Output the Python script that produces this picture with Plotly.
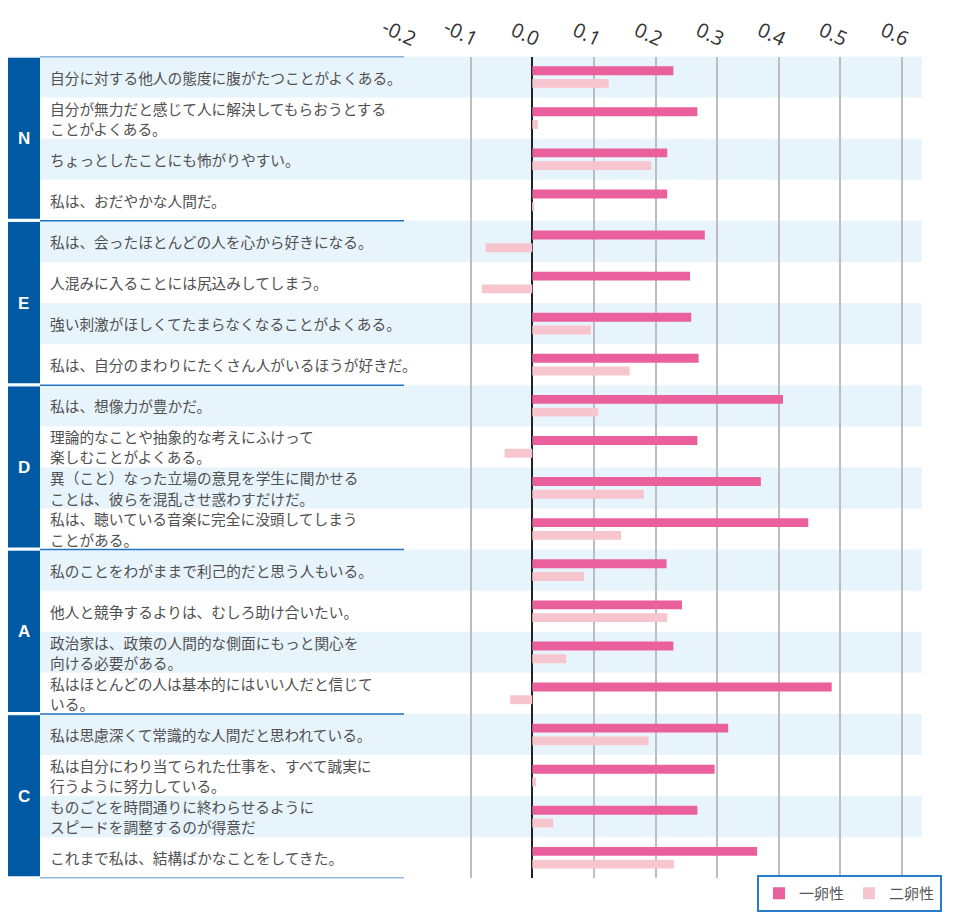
import plotly.graph_objects as go

# data
groups = ["N", "E", "D", "A", "C"]

items = [
    "自分に対する他人の態度に腹がたつことがよくある。",
    "自分が無力だと感じて人に解決してもらおうとする\nことがよくある。",
    "ちょっとしたことにも怖がりやすい。",
    "私は、おだやかな人間だ。",
    "私は、会ったほとんどの人を心から好きになる。",
    "人混みに入ることには尻込みしてしまう。",
    "強い刺激がほしくてたまらなくなることがよくある。",
    "私は、自分のまわりにたくさん人がいるほうが好きだ。",
    "私は、想像力が豊かだ。",
    "理論的なことや抽象的な考えにふけって\n楽しむことがよくある。",
    "異（こと）なった立場の意見を学生に聞かせる\nことは、彼らを混乱させ惑わすだけだ。",
    "私は、聴いている音楽に完全に没頭してしまう\nことがある。",
    "私のことをわがままで利己的だと思う人もいる。",
    "他人と競争するよりは、むしろ助け合いたい。",
    "政治家は、政策の人間的な側面にもっと関心を\n向ける必要がある。",
    "私はほとんどの人は基本的にはいい人だと信じて\nいる。",
    "私は思慮深くて常識的な人間だと思われている。",
    "私は自分にわり当てられた仕事を、すべて誠実に\n行うように努力している。",
    "ものごとを時間通りに終わらせるように\nスピードを調整するのが得意だ",
    "これまで私は、結構ばかなことをしてきた。",
]

mz = [0.229, 0.268, 0.219, 0.219,
      0.280, 0.256, 0.258, 0.270,
      0.407, 0.268, 0.371, 0.448,
      0.218, 0.243, 0.229, 0.486,
      0.318, 0.296, 0.268, 0.365]

dz = [0.124, 0.009, 0.193, 0.003,
      -0.076, -0.082, 0.095, 0.158,
      0.107, -0.045, 0.181, 0.144,
      0.084, 0.219, 0.055, -0.036,
      0.189, 0.006, 0.034, 0.230]

tick_vals = [-0.2, -0.1, 0.0, 0.1, 0.2, 0.3, 0.4, 0.5, 0.6]
tick_text = ["-0.2", "-0.1", "0.0", "0.1", "0.2", "0.3", "0.4", "0.5", "0.6"]

# the page body adds an 8px margin, so the figure is 8px smaller each way
OFF = 8
W, H = 960 - OFF, 920 - OFF


def px(x):
    return (x - OFF) / W


def py(y):
    return 1 - (y - OFF) / H


rows = list(range(len(items)))
row_h = (878.3 - 56.5) / len(items)

fig = go.Figure()
fig.add_trace(go.Bar(y=rows, x=mz, orientation="h", name="一卵性",
                     marker=dict(color="#e9609c", line=dict(width=0))))
fig.add_trace(go.Bar(y=rows, x=dz, orientation="h", name="二卵性",
                     marker=dict(color="#f7c5ce", line=dict(width=0))))

shapes = []
# striped rows
for i in rows:
    if i % 2 == 0:
        shapes.append(dict(type="rect", xref="paper", yref="y", x0=0, x1=px(922),
                           y0=i - 0.5, y1=i + 0.5, fillcolor="#e8f4fc",
                           line=dict(width=0), layer="below"))
# group boxes and separators
for g in range(len(groups)):
    shapes.append(dict(type="rect", xref="paper", yref="y", x0=px(7), x1=px(40),
                       y0=4 * g - 0.5 + 0.03, y1=4 * g + 3.5 - 0.05,
                       fillcolor="#0059a3", line=dict(width=0)))
for g in range(len(groups) + 1):
    shapes.append(dict(type="line", xref="paper", yref="y", x0=px(40), x1=px(404),
                       y0=4 * g - 0.5, y1=4 * g - 0.5,
                       line=dict(color="#2373c2", width=1.5)))

annotations = []
line_gap = 20.2 / row_h
for i, t in enumerate(items):
    lines = t.split("\n")
    n = len(lines)
    for k, ln in enumerate(lines):
        annotations.append(dict(xref="paper", yref="y", x=px(49),
                                y=i + (k - (n - 1) / 2) * line_gap, text=ln,
                                xanchor="left", yanchor="middle", align="left",
                                showarrow=False, borderpad=0,
                                font=dict(size=14.7, color="#505050",
                                          family="Noto Sans CJK JP")))
for g, name in enumerate(groups):
    annotations.append(dict(xref="paper", yref="y", x=px(23.5), y=4 * g + 1.5,
                            text="<b>" + name + "</b>", showarrow=False,
                            xanchor="center", yanchor="middle",
                            font=dict(size=17, color="white",
                                      family="Liberation Sans")))

x0_px, x1_px, zero_px, step_px = 409.1, 922, 532.3, 616.0
fig.update_layout(
    width=W, height=H,
    margin=dict(l=0, r=0, t=0, b=0, autoexpand=False),
    paper_bgcolor="white", plot_bgcolor="rgba(0,0,0,0)",
    barmode="group", bargap=0.38, bargroupgap=0.3,
    font=dict(family="Noto Sans CJK JP", color="#505050"),
    shapes=shapes, annotations=annotations,
    xaxis=dict(domain=[px(x0_px), px(x1_px)],
               range=[(x0_px - zero_px) / step_px, (x1_px - zero_px) / step_px],
               side="top", tickvals=tick_vals, ticktext=tick_text, tickangle=25,
               ticklabelshift=7, ticklabelstandoff=4,
               tickfont=dict(size=20, color="#333333", family="Open Sans"),
               showgrid=True, gridcolor="#bdbdbd", gridwidth=1.5,
               zeroline=True, zerolinecolor="#222222", zerolinewidth=1.5,
               showline=False, ticks="", automargin=False, fixedrange=True),
    yaxis=dict(domain=[py(878.3), py(56.5)], range=[19.5, -0.5],
               showticklabels=False, showgrid=False, zeroline=False,
               ticks="", automargin=False, fixedrange=True),
    legend=dict(orientation="h", x=px(942), xanchor="right",
                y=py(875), yanchor="top", traceorder="normal",
                bgcolor="white", bordercolor="#2b7bcb", borderwidth=2,
                font=dict(size=15, color="#555555", family="Noto Sans CJK JP")),
)

fig.write_html("out.html")
